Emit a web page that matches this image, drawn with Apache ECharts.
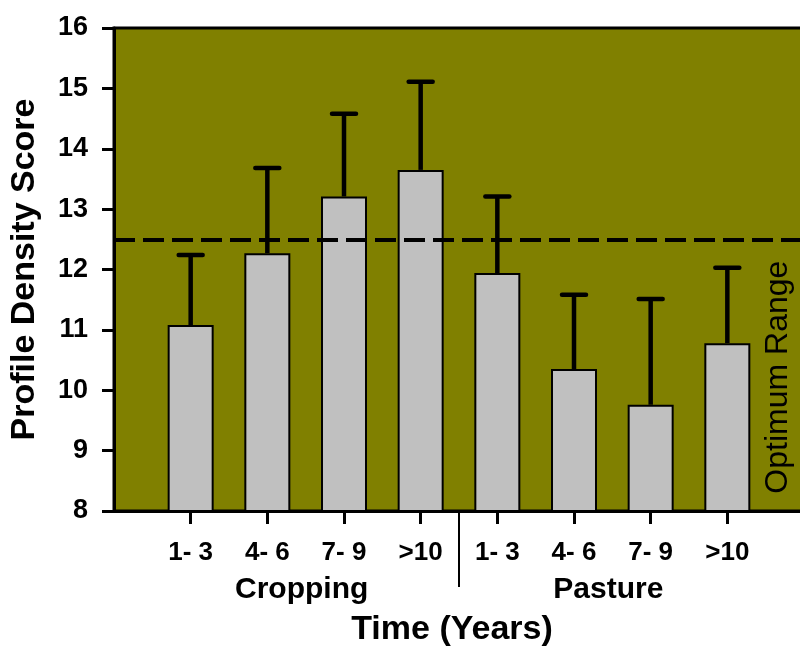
<!DOCTYPE html>
<html>
<head>
<meta charset="utf-8">
<script src="https://cdn.jsdelivr.net/npm/echarts@6/dist/echarts.min.js"></script>
<style>
  html, body { margin: 0; padding: 0; background: #fff; }
  #chart { width: 800px; height: 648px; }
</style>
</head>
<body>
<div id="chart"></div>
<script>
// Profile density score by time under cropping / pasture, with upper error bars.
const categories = ["1- 3", "4- 6", "7- 9", ">10", "1- 3", "4- 6", "7- 9", ">10"];
const groups = ["Cropping", "Pasture"];
const groupSize = 4;
const means = [11.08, 12.27, 13.21, 13.65, 11.94, 10.35, 9.76, 10.78];
const upper = [12.24, 13.68, 14.58, 15.11, 13.21, 11.58, 11.51, 12.03];
const optimum = 12.5;
const yTicks = { min: 8, max: 16, step: 1 };

const FONT = "Liberation Sans, Arial, sans-serif";
// padded with a blank slot either side so bars sit away from the frame
const axisCats = ["", ...categories, ""];
const isReal = i => i > 0 && i < axisCats.length - 1;

const chart = echarts.init(document.getElementById("chart"), null, { renderer: "canvas" });

chart.setOption({
  animation: false,
  backgroundColor: "#fff",
  grid: {
    left: 114, top: 28, right: -4, bottom: 137,
    outerBoundsMode: "none",
    show: true, backgroundColor: "#808000", borderColor: "#000", borderWidth: 3,
  },
  xAxis: {
    type: "category",
    data: axisCats,
    boundaryGap: false,
    axisLine: { lineStyle: { color: "#000", width: 3 } },
    axisTick: { length: 13, lineStyle: { color: "#000", width: 3 }, interval: i => isReal(i) },
    axisLabel: {
      interval: i => isReal(i), margin: 29,
      color: "#000", fontFamily: FONT, fontWeight: "bold", fontSize: 26,
    },
    splitLine: { show: false },
  },
  yAxis: {
    type: "value",
    min: yTicks.min, max: yTicks.max, interval: yTicks.step,
    name: "Profile Density Score",
    nameLocation: "middle", nameRotate: 90, nameGap: 72,
    nameTextStyle: { color: "#000", fontFamily: FONT, fontWeight: "bold", fontSize: 34 },
    axisLine: { show: true, lineStyle: { color: "#000", width: 3 } },
    axisTick: { show: true, length: 12, lineStyle: { color: "#000", width: 3 } },
    axisLabel: { margin: 26, color: "#000", fontFamily: FONT, fontWeight: "bold", fontSize: 27 },
    splitLine: { show: false },
  },
  series: [
    {
      type: "bar",
      barWidth: 46,
      data: means.map((v, i) => [i + 1, v]),
      itemStyle: { color: "#c0c0c0", borderColor: "#000", borderWidth: 2 },
      z: 2,
    },
    {
      type: "custom",
      z: 3,
      data: means.map((v, i) => [i + 1, v, upper[i]]),
      renderItem(params, api) {
        const base = api.coord([api.value(0), api.value(1)]);
        const top = api.coord([api.value(0), api.value(2)]);
        return {
          type: "group",
          children: [
            { type: "line", shape: { x1: base[0], y1: base[1], x2: top[0], y2: top[1] },
              style: { stroke: "#000", lineWidth: 4.5 } },
            { type: "line", shape: { x1: top[0] - 12, y1: top[1], x2: top[0] + 12, y2: top[1] },
              style: { stroke: "#000", lineWidth: 4.5, lineCap: "round" } },
          ],
        };
      },
      markLine: {
        silent: true, symbol: "none", label: { show: false },
        lineStyle: { color: "#000", width: 4, type: [21, 8] },
        data: [{ yAxis: optimum }],
      },
    },
  ],
});

// annotations placed from the axis scales
const px = i => chart.convertToPixel({ xAxisIndex: 0 }, i + 1);
const py = v => chart.convertToPixel({ yAxisIndex: 0 }, v);
const axisY = py(yTicks.min);
const sepX = (px(groupSize - 1) + px(groupSize)) / 2;
const textStyle = (txt, size, weight) => ({
  text: txt, fill: "#000", font: `${weight} ${size}px ${FONT}`, align: "center", verticalAlign: "middle",
});

chart.setOption({
  graphic: [
    { type: "line", shape: { x1: sepX, y1: axisY, x2: sepX, y2: axisY + 76 },
      style: { stroke: "#000", lineWidth: 2 } },
    ...groups.map((g, k) => ({
      type: "text",
      x: (px(k * groupSize) + px(k * groupSize + groupSize - 1)) / 2 - 4,
      y: axisY + 79,
      style: textStyle(g, 30, "bold"),
    })),
    { type: "text", x: sepX - 7, y: axisY + 119, style: textStyle("Time (Years)", 34, "bold") },
    { type: "text", x: 778, y: py((yTicks.min + optimum) / 2) + 2, rotation: Math.PI / 2,
      style: textStyle("Optimum Range", 32, "normal") },
  ],
});
</script>
</body>
</html>
